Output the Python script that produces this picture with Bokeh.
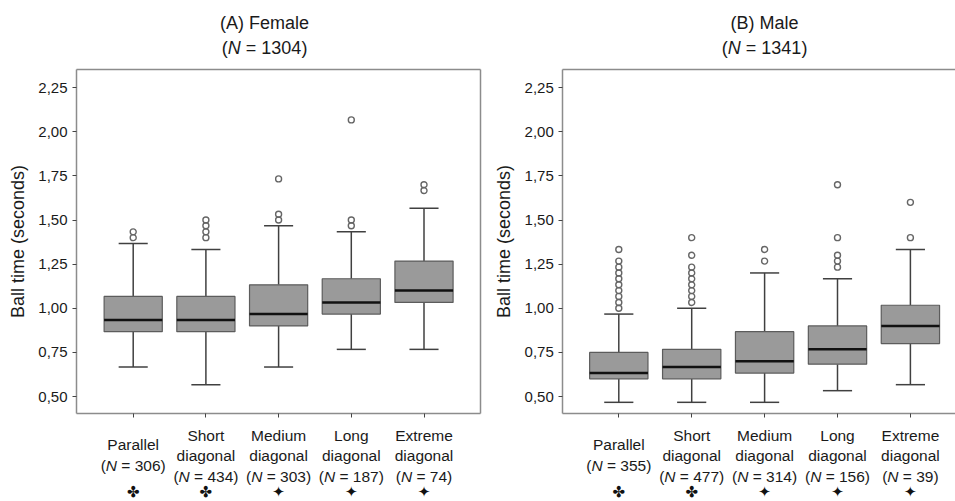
from bokeh.plotting import figure
from bokeh.layouts import row
from bokeh.models import FixedTicker, CustomJSTickFormatter, LinearAxis, Range1d, ColumnDataSource
from bokeh.core.properties import value
from bokeh.embed import file_html
from bokeh.resources import INLINE

# ---------------- data ----------------
categories = ["Parallel", "Short diagonal", "Medium diagonal", "Long diagonal", "Extreme diagonal"]
cat_lines = [["Parallel"], ["Short", "diagonal"], ["Medium", "diagonal"], ["Long", "diagonal"], ["Extreme", "diagonal"]]
female_n = [306, 434, 303, 187, 74]
male_n = [355, 477, 314, 156, 39]
symbols = ["\u2724", "\u2724", "\u2726", "\u2726", "\u2726"]
y_ticks = [0.50, 0.75, 1.00, 1.25, 1.50, 1.75, 2.00, 2.25]

female_low = [0.667, 0.567, 0.667, 0.767, 0.767]
female_q1 = [0.867, 0.867, 0.900, 0.967, 1.033]
female_med = [0.933, 0.933, 0.967, 1.033, 1.100]
female_q3 = [1.067, 1.067, 1.133, 1.167, 1.267]
female_high = [1.367, 1.333, 1.467, 1.433, 1.567]
female_out = [[1.400, 1.433],
              [1.400, 1.433, 1.467, 1.500],
              [1.500, 1.533, 1.733],
              [1.467, 1.500, 2.067],
              [1.667, 1.700]]

male_low = [0.467, 0.467, 0.467, 0.533, 0.567]
male_q1 = [0.600, 0.600, 0.633, 0.683, 0.800]
male_med = [0.633, 0.667, 0.700, 0.767, 0.900]
male_q3 = [0.750, 0.767, 0.867, 0.900, 1.017]
male_high = [0.967, 1.000, 1.200, 1.167, 1.333]
male_out = [[1.000, 1.033, 1.067, 1.100, 1.133, 1.167, 1.200, 1.233, 1.267, 1.333],
            [1.033, 1.067, 1.100, 1.133, 1.167, 1.200, 1.233, 1.300, 1.400],
            [1.267, 1.333],
            [1.233, 1.267, 1.300, 1.400, 1.700],
            [1.400, 1.600]]

# ---------------- layout constants (pixels) ----------------
FONT = "Liberation Sans"
TXT = "#1a1a1a"
FRAME = "#8c8c8c"
H = 501
Y_PX_050 = 396.0      # pixel row of the 0.50 tick
Y_PX_UNIT = 176.5     # pixels per 1.0 second
BOX_TOP, BOX_BOT = 69, 413
CAT_SIZE = 15.5


def y_of(px):
    return 0.5 + (Y_PX_050 - px) / Y_PX_UNIT


Y_START, Y_END = y_of(H), y_of(0)
Y0, Y1 = y_of(BOX_BOT), y_of(BOX_TOP)

AW = {'(': 0.333, ')': 0.333, 'N': 0.722, ' ': 0.278, '=': 0.584}
for d in "0123456789":
    AW[d] = 0.556


def tw(s, size):
    return sum(AW.get(c, 0.556) for c in s) * size


def make_panel(title, n_total, ns, lows, q1s, meds, q3s, highs, outs,
               fig_x0, fig_w, tick1_px, cat_px, box_l_px, box_r_px, title_dx, right_border):
    x_of = lambda px: 1 + (px - tick1_px) / cat_px
    XL = x_of(box_l_px)
    XR = x_of(min(box_r_px, fig_x0 + fig_w))
    p = figure(width=fig_w, height=H,
               x_range=Range1d(x_of(fig_x0), x_of(fig_x0 + fig_w)),
               y_range=Range1d(Y_START, Y_END),
               output_backend="svg", toolbar_location=None,
               min_border=0, min_border_left=0, min_border_right=0,
               min_border_top=0, min_border_bottom=0)
    p.xgrid.visible = False
    p.ygrid.visible = False
    p.outline_line_color = None
    p.background_fill_color = "white"
    p.border_fill_color = "white"

    xs = list(range(1, len(categories) + 1))

    # y axis (fixed inside the frame)
    ya = p.yaxis[0]
    ya.fixed_location = XL
    ya.bounds = (Y0, Y1)
    ya.ticker = FixedTicker(ticks=y_ticks)
    ya.formatter = CustomJSTickFormatter(code="return tick.toFixed(2).replace('.', ',');")
    ya.minor_tick_line_color = None
    ya.major_tick_in = 0
    ya.major_tick_out = 4
    ya.major_tick_line_color = "#444444"
    ya.axis_line_color = FRAME
    ya.axis_line_width = 1.5
    ya.major_label_text_font = FONT
    ya.major_label_text_font_size = "15px"
    ya.major_label_text_color = TXT
    ya.major_label_standoff = 5
    ya.axis_label = "Ball time (seconds)"
    ya.axis_label_text_font = FONT
    ya.axis_label_text_font_size = "18px"
    ya.axis_label_text_font_style = "normal"
    ya.axis_label_text_color = TXT
    ya.axis_label_standoff = 7

    # x axis (fixed at box bottom)
    xa = p.xaxis[0]
    xa.fixed_location = Y0
    xa.bounds = (XL, XR)
    xa.ticker = FixedTicker(ticks=xs)
    xa.formatter = CustomJSTickFormatter(code="return '';")
    xa.minor_tick_line_color = None
    xa.major_tick_in = 0
    xa.major_tick_out = 4
    xa.major_tick_line_color = "#444444"
    xa.axis_line_color = FRAME
    xa.axis_line_width = 1.5

    # top border of the box
    top = LinearAxis(fixed_location=Y1, bounds=(XL, XR), ticker=FixedTicker(ticks=[]),
                     axis_line_color=FRAME, axis_line_width=1.5,
                     major_tick_line_color=None, minor_tick_line_color=None)
    p.add_layout(top, "below")
    if right_border:
        rb = LinearAxis(fixed_location=XR, bounds=(Y0, Y1), ticker=FixedTicker(ticks=[]),
                        axis_line_color=FRAME, axis_line_width=1.5,
                        major_tick_line_color=None, minor_tick_line_color=None)
        p.add_layout(rb, "left")

    # whiskers
    wc = "#404040"
    p.segment(x0=xs, y0=q3s, x1=xs, y1=highs, line_color=wc, line_width=1.5)
    p.segment(x0=xs, y0=lows, x1=xs, y1=q1s, line_color=wc, line_width=1.5)
    p.segment(x0=[x - 0.2 for x in xs], y0=highs, x1=[x + 0.2 for x in xs], y1=highs, line_color=wc, line_width=1.5)
    p.segment(x0=[x - 0.2 for x in xs], y0=lows, x1=[x + 0.2 for x in xs], y1=lows, line_color=wc, line_width=1.5)
    # boxes
    p.vbar(x=xs, width=0.8, bottom=q1s, top=q3s, fill_color="#9a9a9a", line_color="#5c5c5c", line_width=1.2)
    # medians
    p.segment(x0=[x - 0.4 for x in xs], y0=meds, x1=[x + 0.4 for x in xs], y1=meds,
              line_color="#111111", line_width=2.5)
    # outliers
    ox = [xs[i] for i, o in enumerate(outs) for _ in o]
    oy = [v for o in outs for v in o]
    p.scatter(x=ox, y=oy, marker="circle", size=6, fill_color=None, line_color="#666666", line_width=1.4)

    # ---- texts (glyphs) ----
    norm = dict(x=[], y=[], text=[], dx=[], size=[], align=[])
    ital = dict(x=[], y=[], text=[], dx=[], size=[])

    def add(x, py, text, size, dx=0, align="center"):
        norm["x"].append(x); norm["y"].append(y_of(py)); norm["text"].append(text)
        norm["dx"].append(dx); norm["size"].append(f"{size}px"); norm["align"].append(align)

    def add_n(x, py, n, size, dx=0):
        after = f"= {n})"
        total = tw("(", size) + tw("N", size) + tw(" ", size) + tw(after, size)
        left = dx - total / 2
        add(x, py, "(", size, left, "left")
        ital["x"].append(x); ital["y"].append(y_of(py)); ital["text"].append("N")
        ital["dx"].append(left + tw("(", size)); ital["size"].append(f"{size}px")
        add(x, py, after, size, left + tw("(", size) + tw("N", size) + tw(" ", size), "left")

    add(3, 22, title, 18, title_dx)
    add_n(3, 47, n_total, 18, title_dx)
    for i, x in enumerate(xs):
        lines = cat_lines[i]
        if len(lines) == 1:
            add(x, 444, lines[0], CAT_SIZE)
            add_n(x, 465, ns[i], CAT_SIZE)
        else:
            add(x, 435, lines[0], CAT_SIZE)
            add(x, 455, lines[1], CAT_SIZE)
            add_n(x, 476, ns[i], CAT_SIZE)

    p.text(x="x", y="y", text="text", x_offset="dx", text_font_size="size", text_align="align",
           source=ColumnDataSource(norm), text_font=value(FONT), text_color=TXT,
           text_baseline="middle")
    p.text(x="x", y="y", text="text", x_offset="dx", text_font_size="size",
           source=ColumnDataSource(ital), text_font=value(FONT), text_font_style="italic",
           text_color=TXT, text_align="left", text_baseline="middle")
    p.text(x=xs, y=[y_of(491)] * len(xs), text=symbols, text_font=value("DejaVu Sans"),
           text_font_size="15px", text_color="#111111", text_align="center", text_baseline="middle")
    return p


pA = make_panel("(A) Female", 1304, female_n, female_low, female_q1, female_med, female_q3,
                female_high, female_out, 0, 484, 132.7, 72.7, 76, 480, -14, True)
pB = make_panel("(B) Male", 1341, male_n, male_low, male_q1, male_med, male_q3,
                male_high, male_out, 484, 471, 618.3, 72.9, 562.3, 1000, 0, False)

layout = row(pA, pB)
open("out.html", "w").write(file_html(layout, INLINE))
